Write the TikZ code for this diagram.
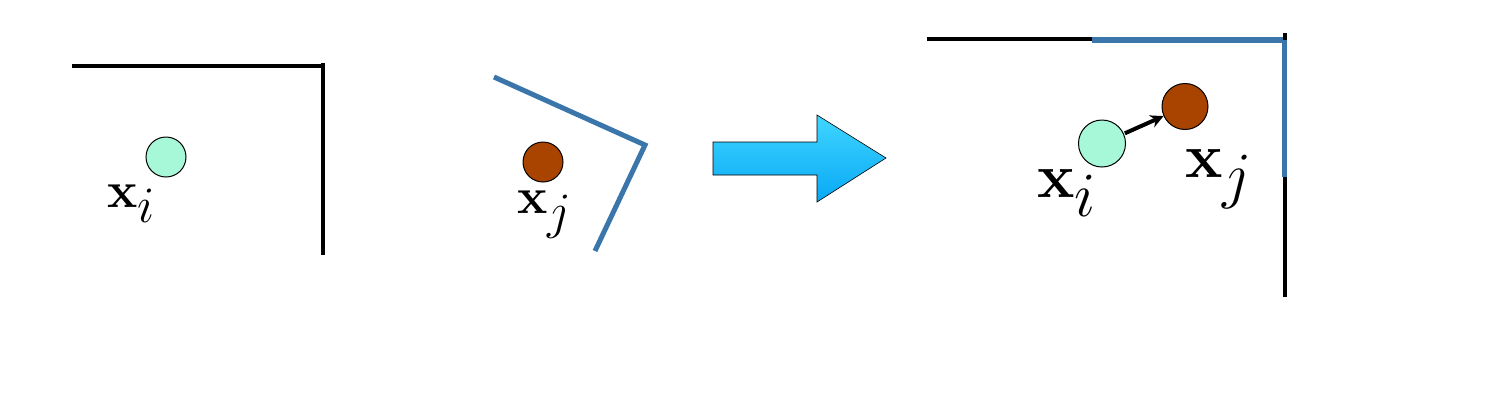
\RequirePackage{fix-cm}
\documentclass[tikz,border=0pt]{standalone}
\usetikzlibrary{arrows.meta}
\definecolor{wallblue}{RGB}{58,118,170}
\definecolor{mint}{RGB}{166,248,216}
\definecolor{rust}{RGB}{168,67,0}
\definecolor{arrtop}{RGB}{64,214,255}
\definecolor{arrbot}{RGB}{8,168,245}
\newcommand{\vx}[1]{\mathbf{x}_{\textstyle #1}}
\begin{document}
\begin{tikzpicture}[x=1pt,y=-1pt,
  wall/.style={line width=3.5pt,black},
  bwall/.style={line width=5pt,wallblue},
  pt/.style={circle,draw=black,line width=1pt,inner sep=0pt},
  lab/.style={inner sep=0pt,anchor=base west,font=\fontsize{51}{60}\selectfont},
  labbig/.style={inner sep=0pt,anchor=base west,font=\fontsize{63}{72}\selectfont}]
\useasboundingbox[fill=white] (0,0) rectangle (1500,400);
% panel 1
\draw[wall] (72,66) -- (323,66);
\draw[wall] (323,63) -- (323,255);
\node[pt,fill=mint,minimum size=40pt] (ci1) at (166,157) {};
\node[lab] (li1) at (107,207) {$\vx{i}$};
% panel 2
\draw[bwall,line join=miter] (494,77) -- (645,145) -- (595,251);
\node[pt,fill=rust,minimum size=40pt] (cj2) at (543,162) {};
\node[lab] (lj2) at (517,213) {$\vx{j}$};
% block arrow
\path[draw=black,line width=0.6pt,top color=arrtop,bottom color=arrbot]
  (713,142) -- (817,142) -- (817,115) -- (886,158) -- (817,202) -- (817,175) -- (713,175) -- cycle;
% panel 3
\draw[wall] (927,39) -- (1092,39);
\draw[line width=6pt,wallblue] (1092,40) -- (1287,40);
\draw[line width=5.5pt,wallblue] (1284.5,37) -- (1284.5,177);
\draw[wall] (1285,33) -- (1285,40);
\draw[wall] (1285,177) -- (1285,297);
\node[pt,fill=mint,minimum size=47pt] (ci3) at (1102,143.5) {};
\node[pt,fill=rust,minimum size=46pt] (cj3) at (1185,106.5) {};
\draw[line width=4pt,-{Stealth[length=13pt,width=13pt]},shorten <=1pt,shorten >=0pt] (ci3) -- (cj3);
\node[labbig] (li3) at (1037,197) {$\vx{i}$};
\node[labbig] (lj3) at (1185,177) {$\vx{j}$};
\end{tikzpicture}
\end{document}
